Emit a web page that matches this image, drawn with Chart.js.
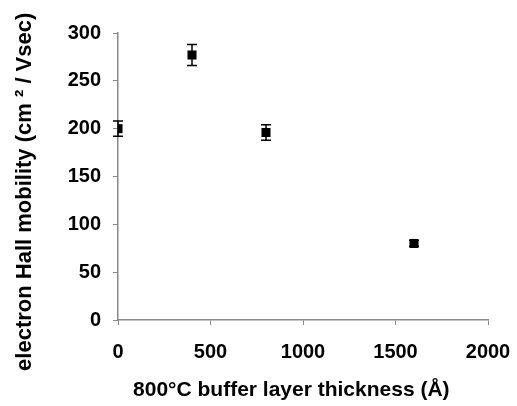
<!DOCTYPE html>
<html>
<head>
<meta charset="utf-8">
<script src="https://cdn.jsdelivr.net/npm/chart.js@4.4.0/dist/chart.umd.min.js"></script>
<style>
  html, body { margin: 0; padding: 0; background: #fff; }
  #wrap { width: 517px; height: 406px; }
</style>
</head>
<body>
<div id="wrap"><canvas id="chart" width="517" height="406"></canvas></div>
<script>
// buffer layer thickness (A)
const thickness = [0, 400, 800, 1600];
// electron Hall mobility (cm2/Vsec)
const mobility = [200, 277, 196, 80];
// error bar half-widths
const mobilityErr = [8, 11, 8, 3];

const xTicks = [0, 500, 1000, 1500, 2000];
const yTicks = [0, 50, 100, 150, 200, 250, 300];

const FONT = '"Liberation Sans", Arial, sans-serif';

// draws vertical error bars with caps
const errorBars = {
    id: 'errorBars',
    afterDatasetsDraw(chart) {
        const ctx = chart.ctx;
        const xs = chart.scales.x;
        const ys = chart.scales.y;
        ctx.save();
        ctx.strokeStyle = '#000';
        ctx.lineWidth = 1.5;
        thickness.forEach((t, i) => {
            const px = xs.getPixelForValue(t);
            const top = ys.getPixelForValue(mobility[i] + mobilityErr[i]);
            const bot = ys.getPixelForValue(mobility[i] - mobilityErr[i]);
            ctx.beginPath();
            ctx.moveTo(px, top);
            ctx.lineTo(px, bot);
            ctx.moveTo(px - 5, top);
            ctx.lineTo(px + 5, top);
            ctx.moveTo(px - 5, bot);
            ctx.lineTo(px + 5, bot);
            ctx.stroke();
        });
        ctx.restore();
    }
};

const ctx = document.getElementById('chart').getContext('2d');
new Chart(ctx, {
    type: 'scatter',
    data: {
        datasets: [{
            data: thickness.map((t, i) => ({ x: t, y: mobility[i] })),
            pointStyle: 'rect',
            pointRadius: 6.4,
            backgroundColor: '#000',
            borderColor: '#000',
            borderWidth: 0
        }]
    },
    options: {
        responsive: false,
        animation: false,
        layout: { padding: { left: 0, right: 29, top: 33, bottom: 0 } },
        plugins: {
            legend: { display: false },
            tooltip: { enabled: false }
        },
        scales: {
            x: {
                type: 'linear',
                min: 0,
                max: 2000,
                afterBuildTicks: s => { s.ticks = xTicks.map(v => ({ value: v })); },
                afterFit: s => { s.height = 86; s.paddingLeft = 0; s.paddingRight = 0; },
                border: { color: '#888', width: 1.5 },
                grid: { drawOnChartArea: false, drawTicks: true, tickLength: 5, color: '#888' },
                ticks: {
                    color: '#000',
                    padding: 15,
                    maxRotation: 0,
                    callback: v => String(v),
                    font: { family: FONT, size: 20, weight: 'bold' }
                },
                title: {
                    display: true,
                    text: '800°C buffer layer thickness (Å)    ',
                    color: '#000',
                    padding: { top: 0, bottom: 3 },
                    font: { family: FONT, size: 21, weight: 'bold' }
                }
            },
            y: {
                type: 'linear',
                min: 0,
                max: 300,
                afterBuildTicks: s => { s.ticks = yTicks.map(v => ({ value: v })); },
                afterFit: s => { s.width = 118; s.paddingTop = 0; s.paddingBottom = 0; },
                border: { color: '#888', width: 1.5 },
                grid: { drawOnChartArea: false, drawTicks: true, tickLength: 5, color: '#888' },
                ticks: {
                    color: '#000',
                    padding: 12,
                    font: { family: FONT, size: 20, weight: 'bold' }
                },
                title: {
                    display: true,
                    text: 'electron Hall mobility (cm ² / Vsec)     ',
                    color: '#000',
                    padding: { top: 12, bottom: 0 },
                    font: { family: FONT, size: 22, weight: 'bold' }
                }
            }
        }
    },
    plugins: [errorBars]
});
</script>
</body>
</html>
